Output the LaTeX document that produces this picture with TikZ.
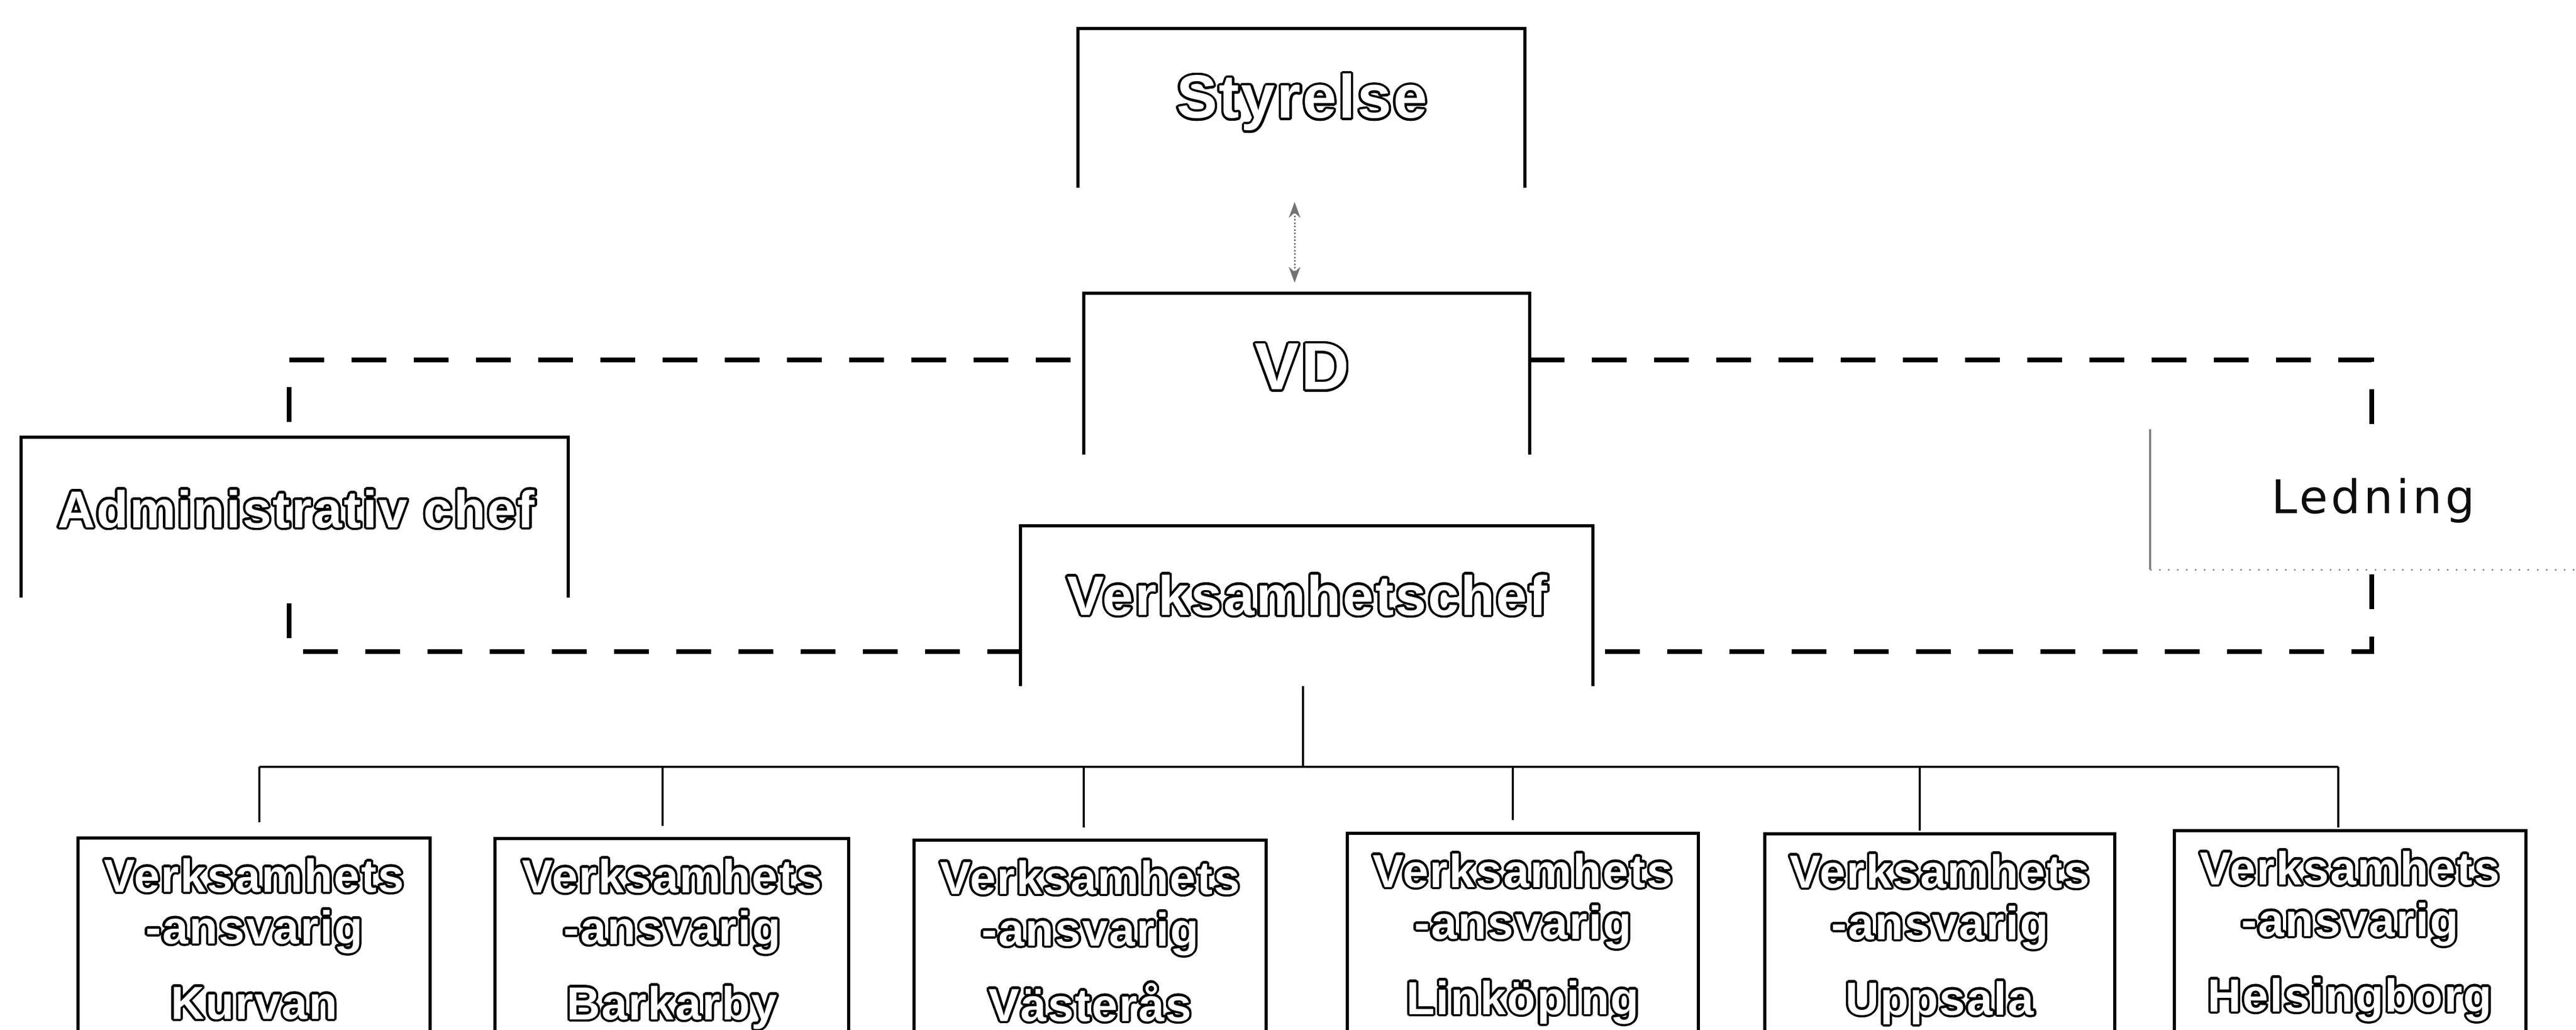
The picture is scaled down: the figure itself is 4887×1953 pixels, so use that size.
\documentclass[tikz,border=0pt]{standalone}
\usepackage{fontspec}
\setmainfont{Liberation Sans}
\newfontfamily\ledfont[LetterSpace=7]{DejaVu Sans}
\newfontfamily\hollowfont[LetterSpace=3]{Liberation Sans Bold}
\usepackage{contour}
\contourlength{1.2pt}
\contournumber{24}
\usetikzlibrary{fit,arrows.meta,calc}
\newcommand\opensides[1]{\draw[boxline] (#1.south west) -- (#1.north west) -- (#1.north east) -- (#1.south east);}
\begin{document}
\begin{tikzpicture}[x=0.1mm,y=-0.1mm,
  box/.style={inner sep=0pt, outer sep=0pt},
  boxline/.style={line width=0.55mm, black, line join=miter},
  tree/.style={line width=0.4mm, black},
  dconn/.style={line width=0.9mm, black, dash pattern=on 6.6mm off 5.2mm},
  arr/.style={line width=0.3mm, black!55, densely dotted, {Stealth[length=3mm,width=2.2mm]}-{Stealth[length=3mm,width=2.2mm]}},
  bigtxt/.style={anchor=base, inner sep=0pt, text=white, font=\hollowfont\fontsize{30pt}{36pt}\selectfont},
  smtxt/.style={anchor=base, inner sep=0pt, text=white, font=\hollowfont\fontsize{25pt}{28pt}\selectfont},
  ledtxt/.style={anchor=base, inner sep=0pt, text=black!95, font=\ledfont\fontsize{25pt}{28pt}\selectfont},
]
\useasboundingbox (0,0) rectangle (4887,1953);
\fill[white] (0,0) rectangle (4887,1953);

% boxes
\node[box, fit={(2045,54) (2893,356)}] (sty) {};
\node[box, fit={(2056,556) (2902,862)}] (vd) {};
\node[box, fit={(40,829) (1078,1133)}] (adm) {};
\node[box, fit={(1936,997) (3022,1301)}] (vc) {};
\node[box, fit={(4079,814) (4925,1080)}] (led) {};
\node[box, fit={(148,1589) (816,1965)}] (b1) {};
\node[box, fit={(939,1590) (1610,1965)}] (b2) {};
\node[box, fit={(1734,1593) (2402,1965)}] (b3) {};
\node[box, fit={(2556,1580) (3222,1965)}] (b4) {};
\node[box, fit={(3348,1581) (4012,1965)}] (b5) {};
\node[box, fit={(4125,1575) (4792,1965)}] (b6) {};

\opensides{sty}
\opensides{vd}
\opensides{adm}
\opensides{vc}
\foreach \b in {b1,b2,b3,b4,b5,b6} {\opensides{\b}}
\draw[line width=0.45mm, black!50] (led.north west) -- (led.south west);
\draw[line width=0.3mm, black!45, loosely dotted] (led.south west) -- (led.south east);

% texts
\node[bigtxt, font=\hollowfont\fontsize{33pt}{38pt}\selectfont] (sty-t) at (2470,224) {\contour{black}{Styrelse}};
\node[bigtxt, font=\hollowfont\fontsize{36pt}{40pt}\selectfont] (vd-t) at (2470,739) {\contour{black}{VD}};
\node[bigtxt] (vc-t) at (2480,1166) {\contour{black}{Verksamhetschef}};
\node[bigtxt, font=\hollowfont\fontsize{28pt}{34pt}\selectfont] (adm-t) at (562,1000) {\contour{black}{Administrativ chef}};
\node[ledtxt] (led-t) at (4502,973) {Ledning};

\foreach \b/\x/\t/\c in {b1/482/1589/Kurvan, b2/1275/1590/Barkarby, b3/2068/1593/Västerås,
    b4/2889/1580/Linköping, b5/3680/1581/Uppsala, b6/4458/1575/Helsingborg} {
  \node[smtxt] (\b-t1) at (\x,\t+102) {\contour{black}{Verksamhets}};
  \node[smtxt] (\b-t2) at (\x,\t+200) {\contour{black}{-ansvarig}};
  \node[smtxt] (\b-t3) at (\x,\t+343) {\contour{black}{\c}};
}

% Styrelse <-> VD
\coordinate (arx) at (2456,0);
\draw[arr, shorten <=2.7mm, shorten >=2mm] (sty.south -| arx) -- (vd.north -| arx);

% dashed connectors
\coordinate (cTL) at (548,683);
\coordinate (cTR) at (4499,683);
\coordinate (cBL) at (548,1235);
\coordinate (cBR) at (4499,1235);
\draw[dconn, dash phase=9.3mm] (vd.west |- cTL) -- (cTL) -- (adm.north -| cTL);
\draw[dconn] (vd.east |- cTR) -- (cTR) -- (led.north -| cTR);
\draw[dconn, dash phase=10.7mm] (adm.south -| cBL) -- (cBL) -- (vc.west |- cBL);
\draw[dconn, dash phase=10.9mm] (led.south -| cBR) -- (cBR) -- (vc.east |- cBR);

% tree
\coordinate (bar) at (2472,1454);
\coordinate (d1) at (492,1454);
\coordinate (d2) at (1257,1454);
\coordinate (d3) at (2056,1454);
\coordinate (d4) at (2870,1454);
\coordinate (d5) at (3642,1454);
\coordinate (d6) at (4436,1454);
\draw[tree] (vc.south -| bar) -- (bar);
\draw[tree] (d1) -- (d6);
\draw[tree, shorten >=3mm] (d1) -- (d1 |- b1.north);
\draw[tree, shorten >=2.4mm] (d2) -- (d2 |- b2.north);
\draw[tree, shorten >=2.4mm] (d3) -- (d3 |- b3.north);
\draw[tree, shorten >=2.5mm] (d4) -- (d4 |- b4.north);
\draw[tree, shorten >=0.6mm] (d5) -- (d5 |- b5.north);
\draw[tree, shorten >=0.6mm] (d6) -- (d6 |- b6.north);
\end{tikzpicture}
\end{document}
